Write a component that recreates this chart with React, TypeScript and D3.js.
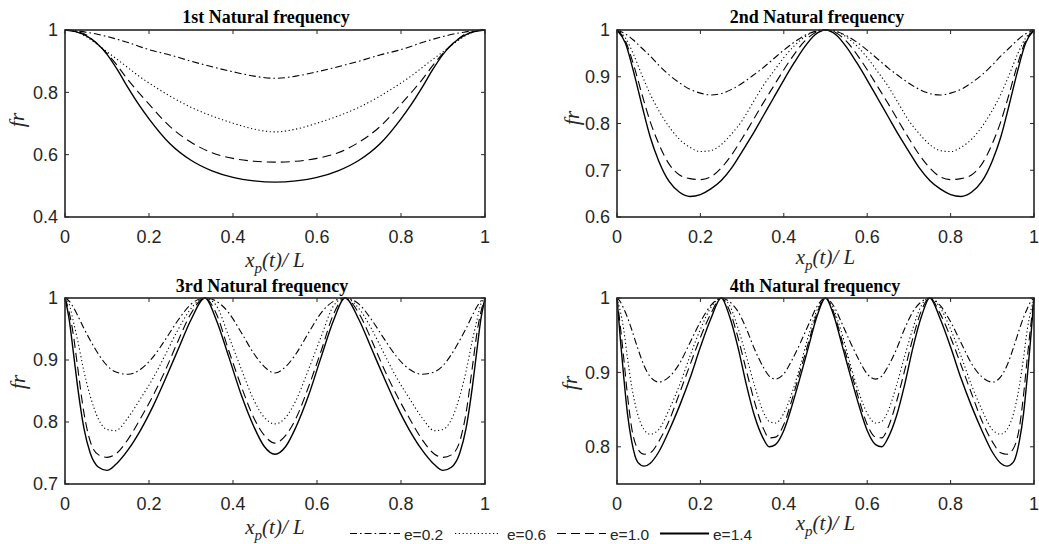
import React from 'react';
import * as d3 from 'd3';

// ---------- data ----------
const TITLES = ['1st Natural frequency', '2nd Natural frequency', '3rd Natural frequency', '4th Natural frequency'];
const E_LABELS = ['e=0.2', 'e=0.6', 'e=1.0', 'e=1.4'];
const X_TICKS = [0, 0.2, 0.4, 0.6, 0.8, 1];
const Y_TICKS_1 = [0.4, 0.6, 0.8, 1];
const Y_TICKS_2 = [0.6, 0.7, 0.8, 0.9, 1];
const Y_TICKS_3 = [0.7, 0.8, 0.9, 1];
const Y_TICKS_4 = [0.8, 0.9, 1];
const Y_DOMAIN_1 = [0.4, 1];
const Y_DOMAIN_2 = [0.6, 1];
const Y_DOMAIN_3 = [0.7, 1];
const Y_DOMAIN_4 = [0.75, 1];

// Panel 1
const P1_X = [0, 0.025, 0.05, 0.075, 0.1, 0.125, 0.15, 0.175, 0.2, 0.25, 0.3, 0.35, 0.4, 0.45, 0.5, 0.55, 0.6, 0.65, 0.7, 0.75, 0.8, 0.825, 0.85, 0.875, 0.9, 0.925, 0.95, 0.975, 1];
const P1_E02 = [1, 0.998, 0.993, 0.987, 0.979, 0.97, 0.96, 0.948, 0.937, 0.92, 0.9, 0.882, 0.866, 0.852, 0.845, 0.852, 0.866, 0.882, 0.9, 0.92, 0.937, 0.948, 0.96, 0.97, 0.979, 0.987, 0.993, 0.998, 1];
const P1_E06 = [1, 0.995, 0.979, 0.956, 0.93, 0.905, 0.879, 0.853, 0.83, 0.788, 0.752, 0.724, 0.701, 0.682, 0.673, 0.682, 0.701, 0.724, 0.752, 0.788, 0.83, 0.853, 0.879, 0.905, 0.93, 0.956, 0.979, 0.995, 1];
const P1_E10 = [1, 0.996, 0.985, 0.958, 0.925, 0.885, 0.84, 0.8, 0.762, 0.69, 0.64, 0.606, 0.588, 0.579, 0.576, 0.579, 0.588, 0.606, 0.64, 0.69, 0.762, 0.8, 0.84, 0.885, 0.925, 0.958, 0.985, 0.996, 1];
const P1_E14 = [1, 0.995, 0.982, 0.958, 0.922, 0.872, 0.815, 0.762, 0.715, 0.635, 0.582, 0.548, 0.527, 0.516, 0.512, 0.516, 0.527, 0.548, 0.582, 0.635, 0.715, 0.762, 0.815, 0.872, 0.922, 0.958, 0.982, 0.995, 1];

// Panel 2
const P2_X = [0, 0.02, 0.04, 0.06, 0.08, 0.1, 0.125, 0.15, 0.175, 0.2, 0.225, 0.25, 0.275, 0.3, 0.325, 0.35, 0.375, 0.4, 0.425, 0.45, 0.475, 0.5, 0.525, 0.55, 0.575, 0.6, 0.625, 0.65, 0.675, 0.7, 0.725, 0.75, 0.775, 0.8, 0.825, 0.85, 0.875, 0.9, 0.92, 0.94, 0.96, 0.98, 1];
const P2_E02 = [1, 0.992, 0.978, 0.961, 0.944, 0.925, 0.904, 0.887, 0.873, 0.865, 0.861, 0.864, 0.873, 0.886, 0.902, 0.919, 0.938, 0.957, 0.974, 0.988, 0.997, 1, 0.997, 0.988, 0.974, 0.957, 0.938, 0.919, 0.902, 0.886, 0.873, 0.864, 0.861, 0.865, 0.873, 0.887, 0.904, 0.925, 0.944, 0.961, 0.978, 0.992, 1];
const P2_E06 = [1, 0.983, 0.947, 0.903, 0.862, 0.828, 0.793, 0.766, 0.749, 0.74, 0.742, 0.755, 0.778, 0.806, 0.843, 0.88, 0.911, 0.941, 0.966, 0.985, 0.997, 1, 0.997, 0.985, 0.966, 0.941, 0.911, 0.88, 0.843, 0.806, 0.778, 0.755, 0.742, 0.74, 0.749, 0.766, 0.793, 0.828, 0.862, 0.903, 0.947, 0.983, 1];
const P2_E10 = [1, 0.977, 0.925, 0.862, 0.803, 0.757, 0.713, 0.69, 0.682, 0.68, 0.686, 0.705, 0.733, 0.768, 0.805, 0.843, 0.879, 0.915, 0.948, 0.976, 0.994, 1, 0.994, 0.976, 0.948, 0.915, 0.879, 0.843, 0.805, 0.768, 0.733, 0.705, 0.686, 0.68, 0.682, 0.69, 0.713, 0.757, 0.803, 0.862, 0.925, 0.977, 1];
const P2_E14 = [1, 0.972, 0.91, 0.838, 0.77, 0.72, 0.676, 0.653, 0.644, 0.648, 0.66, 0.678, 0.705, 0.74, 0.776, 0.815, 0.854, 0.893, 0.93, 0.964, 0.99, 1, 0.99, 0.964, 0.93, 0.893, 0.854, 0.815, 0.776, 0.74, 0.705, 0.678, 0.66, 0.648, 0.644, 0.653, 0.676, 0.72, 0.77, 0.838, 0.91, 0.972, 1];

// Panel 3
const P3_X = [0, 0.01, 0.02, 0.03, 0.045, 0.06, 0.08, 0.1, 0.12, 0.15, 0.18, 0.21, 0.24, 0.27, 0.3, 0.3333, 0.36, 0.39, 0.42, 0.45, 0.475, 0.5, 0.525, 0.55, 0.58, 0.61, 0.64, 0.6667, 0.7, 0.73, 0.76, 0.79, 0.82, 0.85, 0.88, 0.9, 0.92, 0.94, 0.955, 0.97, 0.98, 0.99, 1];
const P3_E02 = [1, 0.995, 0.985, 0.972, 0.951, 0.932, 0.909, 0.891, 0.881, 0.877, 0.885, 0.905, 0.934, 0.965, 0.99, 1, 0.995, 0.976, 0.944, 0.91, 0.889, 0.879, 0.889, 0.91, 0.944, 0.976, 0.995, 1, 0.99, 0.965, 0.934, 0.905, 0.885, 0.877, 0.881, 0.891, 0.909, 0.932, 0.951, 0.972, 0.985, 0.995, 1];
const P3_E06 = [1, 0.99, 0.962, 0.932, 0.882, 0.842, 0.804, 0.788, 0.786, 0.807, 0.838, 0.871, 0.91, 0.95, 0.983, 1, 0.988, 0.938, 0.885, 0.835, 0.807, 0.797, 0.807, 0.835, 0.885, 0.938, 0.988, 1, 0.983, 0.95, 0.91, 0.871, 0.838, 0.807, 0.786, 0.788, 0.804, 0.842, 0.882, 0.932, 0.962, 0.99, 1];
const P3_E10 = [1, 0.977, 0.94, 0.889, 0.815, 0.769, 0.747, 0.743, 0.748, 0.772, 0.806, 0.843, 0.885, 0.932, 0.975, 1, 0.975, 0.915, 0.857, 0.806, 0.778, 0.766, 0.778, 0.806, 0.857, 0.915, 0.975, 1, 0.975, 0.932, 0.885, 0.843, 0.806, 0.772, 0.748, 0.743, 0.747, 0.769, 0.815, 0.889, 0.94, 0.977, 1];
const P3_E14 = [1, 0.965, 0.912, 0.857, 0.79, 0.75, 0.727, 0.722, 0.731, 0.755, 0.787, 0.826, 0.871, 0.918, 0.965, 1, 0.965, 0.905, 0.843, 0.792, 0.76, 0.748, 0.76, 0.792, 0.843, 0.905, 0.965, 1, 0.965, 0.918, 0.871, 0.826, 0.787, 0.755, 0.731, 0.722, 0.727, 0.75, 0.79, 0.857, 0.912, 0.965, 1];

// Panel 4
const P4_X = [0, 0.008, 0.016, 0.025, 0.035, 0.05, 0.065, 0.08, 0.1, 0.125, 0.15, 0.175, 0.2, 0.225, 0.25, 0.27, 0.29, 0.31, 0.33, 0.35, 0.365, 0.38, 0.4, 0.42, 0.44, 0.46, 0.48, 0.5, 0.52, 0.54, 0.56, 0.58, 0.6, 0.62, 0.635, 0.65, 0.67, 0.69, 0.71, 0.73, 0.75, 0.775, 0.8, 0.825, 0.85, 0.875, 0.9, 0.92, 0.935, 0.95, 0.965, 0.975, 0.984, 0.992, 1];
const P4_E02 = [1, 0.995, 0.986, 0.974, 0.958, 0.932, 0.909, 0.894, 0.887, 0.894, 0.912, 0.94, 0.968, 0.99, 1, 0.995, 0.982, 0.959, 0.931, 0.908, 0.895, 0.891, 0.898, 0.917, 0.94, 0.965, 0.989, 1, 0.989, 0.965, 0.94, 0.917, 0.898, 0.891, 0.895, 0.908, 0.931, 0.959, 0.982, 0.995, 1, 0.99, 0.968, 0.94, 0.912, 0.894, 0.887, 0.894, 0.909, 0.932, 0.958, 0.974, 0.986, 0.995, 1];
const P4_E06 = [1, 0.982, 0.958, 0.92, 0.882, 0.843, 0.823, 0.817, 0.823, 0.85, 0.883, 0.922, 0.958, 0.987, 1, 0.99, 0.96, 0.922, 0.882, 0.848, 0.834, 0.832, 0.845, 0.873, 0.91, 0.951, 0.984, 1, 0.984, 0.951, 0.91, 0.873, 0.845, 0.832, 0.834, 0.848, 0.882, 0.922, 0.96, 0.99, 1, 0.987, 0.958, 0.922, 0.883, 0.85, 0.823, 0.817, 0.823, 0.843, 0.882, 0.92, 0.958, 0.982, 1];
const P4_E10 = [1, 0.962, 0.92, 0.87, 0.826, 0.797, 0.79, 0.792, 0.807, 0.835, 0.872, 0.91, 0.947, 0.979, 1, 0.983, 0.947, 0.903, 0.86, 0.826, 0.812, 0.813, 0.83, 0.864, 0.903, 0.942, 0.98, 1, 0.98, 0.942, 0.903, 0.864, 0.83, 0.813, 0.812, 0.826, 0.86, 0.903, 0.947, 0.983, 1, 0.979, 0.947, 0.91, 0.872, 0.835, 0.807, 0.792, 0.79, 0.797, 0.826, 0.87, 0.92, 0.962, 1];
const P4_E14 = [1, 0.945, 0.895, 0.845, 0.808, 0.779, 0.774, 0.778, 0.793, 0.822, 0.855, 0.892, 0.934, 0.972, 1, 0.975, 0.934, 0.884, 0.841, 0.812, 0.8, 0.803, 0.822, 0.856, 0.895, 0.936, 0.976, 1, 0.976, 0.936, 0.895, 0.856, 0.822, 0.803, 0.8, 0.812, 0.841, 0.884, 0.934, 0.975, 1, 0.972, 0.934, 0.892, 0.855, 0.822, 0.793, 0.778, 0.774, 0.779, 0.808, 0.845, 0.895, 0.945, 1];

// ---------- styling / layout ----------
const SERIES_STYLE = [
  { dash: '7,3,1.6,3', width: 1.1 },
  { dash: '1.2,2.6', width: 1.1 },
  { dash: '9,5', width: 1.1 },
  { dash: null as string | null, width: 1.4 },
];

const PANELS = [
  { x: P1_X, series: [P1_E02, P1_E06, P1_E10, P1_E14], yDomain: Y_DOMAIN_1, yTicks: Y_TICKS_1, l: 65, r: 485, t: 30, b: 217, titleX: 266, titleY: 23, xlabY: 266.5, ylabX: 24, ylabY: 120 },
  { x: P2_X, series: [P2_E02, P2_E06, P2_E10, P2_E14], yDomain: Y_DOMAIN_2, yTicks: Y_TICKS_2, l: 617, r: 1034, t: 30, b: 217, titleX: 817, titleY: 23, xlabY: 264, ylabX: 579, ylabY: 118 },
  { x: P3_X, series: [P3_E02, P3_E06, P3_E10, P3_E14], yDomain: Y_DOMAIN_3, yTicks: Y_TICKS_3, l: 65, r: 485, t: 298, b: 484, titleX: 262, titleY: 292, xlabY: 534, ylabX: 25, ylabY: 382 },
  { x: P4_X, series: [P4_E02, P4_E06, P4_E10, P4_E14], yDomain: Y_DOMAIN_4, yTicks: Y_TICKS_4, l: 617, r: 1034, t: 298, b: 484, titleX: 815, titleY: 292, xlabY: 530, ylabX: 577, ylabY: 383 },
];

const AXIS_COLOR = '#262626';
const SANS = '"Liberation Sans", Arial, Helvetica, sans-serif';
const SERIF = '"Liberation Serif", "Times New Roman", serif';
const TICK_FS = 18;
const TICK_LEN = 4;

const fmt = (v: number) => String(+v.toFixed(2));

function Panel({ p, idx }: { p: typeof PANELS[number]; idx: number }) {
  const xs = d3.scaleLinear().domain([0, 1]).range([p.l, p.r]);
  const ys = d3.scaleLinear().domain(p.yDomain).range([p.b, p.t]);
  const line = d3
    .line<[number, number]>()
    .x((d) => xs(d[0]))
    .y((d) => ys(d[1]))
    .curve(d3.curveMonotoneX);
  const cx = (p.l + p.r) / 2;
  return (
    <g>
      {p.series.map((vals, i) => {
        const pts = p.x.map((xv, j) => [xv, vals[j]] as [number, number]);
        const st = SERIES_STYLE[i];
        return (
          <path
            key={i}
            d={line(pts) || ''}
            fill="none"
            stroke="#000"
            strokeWidth={st.width}
            strokeDasharray={st.dash || undefined}
          />
        );
      })}
      {X_TICKS.map((t) => (
        <g key={'xt' + t}>
          <line x1={xs(t)} x2={xs(t)} y1={p.b} y2={p.b - TICK_LEN} stroke={AXIS_COLOR} strokeWidth={1} />
          <line x1={xs(t)} x2={xs(t)} y1={p.t} y2={p.t + TICK_LEN} stroke={AXIS_COLOR} strokeWidth={1} />
          <text x={xs(t)} y={p.b + 26} textAnchor="middle" fontFamily={SANS} fontSize={TICK_FS} fill={AXIS_COLOR}>
            {fmt(t)}
          </text>
        </g>
      ))}
      {p.yTicks.map((t) => (
        <g key={'yt' + t}>
          <line x1={p.l} x2={p.l + TICK_LEN} y1={ys(t)} y2={ys(t)} stroke={AXIS_COLOR} strokeWidth={1} />
          <line x1={p.r} x2={p.r - TICK_LEN} y1={ys(t)} y2={ys(t)} stroke={AXIS_COLOR} strokeWidth={1} />
          <text x={p.l - 7} y={ys(t) + TICK_FS * 0.36} textAnchor="end" fontFamily={SANS} fontSize={TICK_FS} fill={AXIS_COLOR}>
            {fmt(t)}
          </text>
        </g>
      ))}
      <rect x={p.l} y={p.t} width={p.r - p.l} height={p.b - p.t} fill="none" stroke={AXIS_COLOR} strokeWidth={1.6} />
      <text x={p.titleX} y={p.titleY} textAnchor="middle" fontFamily={SERIF} fontWeight="bold" fontSize={18} fill="#000">
        {TITLES[idx]}
      </text>
      <text x={cx} y={p.xlabY} textAnchor="middle" fontFamily={SERIF} fontStyle="italic" fontSize={21} fill={AXIS_COLOR}>
        <tspan>x</tspan>
        <tspan dy={6} fontSize={15}>p</tspan>
        <tspan dy={-6}>(t)/ L</tspan>
      </text>
      <text
        transform={`translate(${p.ylabX},${p.ylabY}) rotate(-90)`}
        textAnchor="middle"
        fontFamily={SERIF}
        fontStyle="italic"
        fontSize={22}
        fill={AXIS_COLOR}
      >
        fr
      </text>
    </g>
  );
}

const LEGEND_ITEMS = [
  { x1: 350, x2: 400, tx: 404 },
  { x1: 455, x2: 500, tx: 507 },
  { x1: 557, x2: 606, tx: 610 },
  { x1: 660, x2: 709, tx: 713 },
];

export default function App() {
  return (
    <svg
      width={1039}
      height={544}
      style={{ position: 'absolute', left: 0, top: 0, background: '#fff' }}
      xmlns="http://www.w3.org/2000/svg"
    >
      <rect x={0} y={0} width={1039} height={544} fill="#fff" />
      {PANELS.map((p, i) => (
        <Panel key={i} p={p} idx={i} />
      ))}
      {LEGEND_ITEMS.map((it, i) => (
        <g key={'lg' + i}>
          <line
            x1={it.x1}
            x2={it.x2}
            y1={533.5}
            y2={533.5}
            stroke="#000"
            strokeWidth={i === 3 ? 2 : 1.1}
            strokeDasharray={SERIES_STYLE[i].dash || undefined}
          />
          <text x={it.tx} y={539.5} fontFamily={SANS} fontSize={15.5} fill={AXIS_COLOR}>
            {E_LABELS[i]}
          </text>
        </g>
      ))}
    </svg>
  );
}
